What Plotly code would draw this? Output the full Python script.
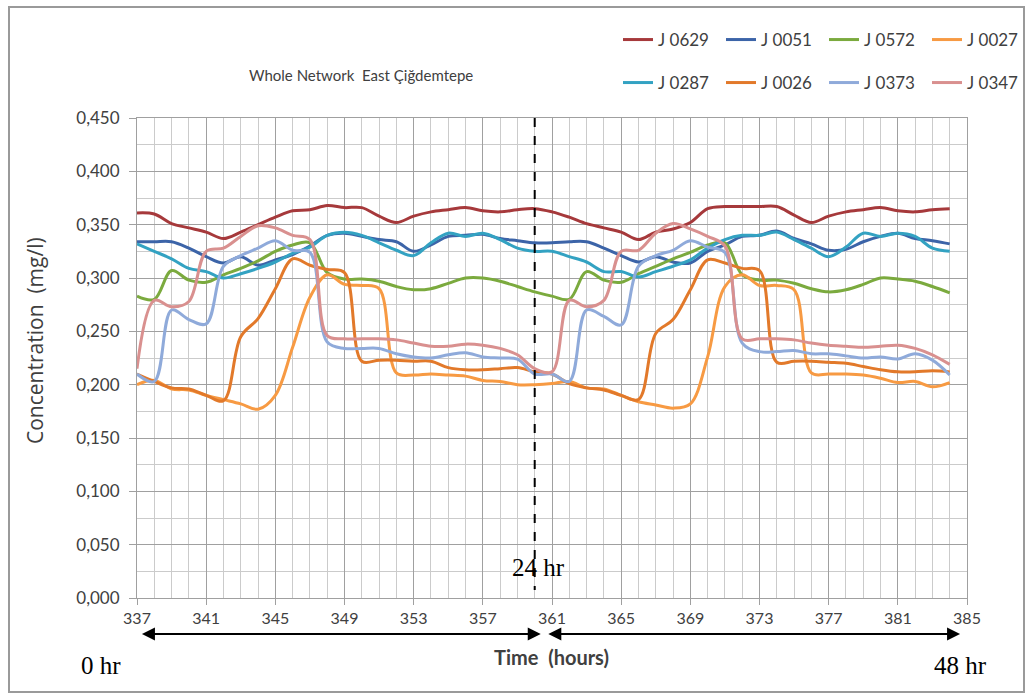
import plotly.graph_objects as go

hours = list(range(337, 385))

j0629 = [0.361, 0.360, 0.351, 0.347, 0.343, 0.337, 0.343, 0.350, 0.357, 0.363, 0.364, 0.368,
         0.366, 0.366, 0.358, 0.352, 0.358, 0.362, 0.364, 0.366, 0.363, 0.362, 0.364, 0.365,
         0.362, 0.357, 0.351, 0.347, 0.343, 0.336, 0.343, 0.346, 0.352, 0.365, 0.367, 0.367,
         0.367, 0.367, 0.359, 0.352, 0.358, 0.362, 0.364, 0.366, 0.363, 0.362, 0.364, 0.365]
j0051 = [0.334, 0.334, 0.334, 0.328, 0.320, 0.314, 0.320, 0.312, 0.317, 0.322, 0.330, 0.340,
         0.342, 0.339, 0.336, 0.334, 0.325, 0.331, 0.339, 0.340, 0.341, 0.337, 0.335, 0.333,
         0.333, 0.334, 0.334, 0.328, 0.321, 0.315, 0.320, 0.315, 0.314, 0.325, 0.331, 0.339,
         0.340, 0.344, 0.337, 0.332, 0.326, 0.327, 0.334, 0.339, 0.342, 0.337, 0.335, 0.332]
j0572 = [0.283, 0.280, 0.307, 0.298, 0.296, 0.303, 0.309, 0.316, 0.325, 0.331, 0.333, 0.305,
         0.299, 0.299, 0.297, 0.292, 0.289, 0.290, 0.295, 0.300, 0.300, 0.297, 0.292, 0.287,
         0.283, 0.280, 0.306, 0.298, 0.296, 0.304, 0.311, 0.318, 0.324, 0.331, 0.333, 0.303,
         0.298, 0.298, 0.295, 0.290, 0.287, 0.289, 0.294, 0.300, 0.299, 0.297, 0.292, 0.286]
j0027 = [0.200, 0.204, 0.196, 0.195, 0.190, 0.186, 0.182, 0.177, 0.190, 0.235, 0.282, 0.303,
         0.294, 0.293, 0.290, 0.211, 0.209, 0.210, 0.209, 0.208, 0.204, 0.203, 0.200, 0.200,
         0.201, 0.203, 0.197, 0.196, 0.190, 0.184, 0.181, 0.178, 0.182, 0.226, 0.292, 0.303,
         0.293, 0.293, 0.289, 0.211, 0.210, 0.210, 0.209, 0.206, 0.202, 0.203, 0.198, 0.202]
j0287 = [0.332, 0.325, 0.318, 0.309, 0.306, 0.300, 0.304, 0.309, 0.315, 0.323, 0.329, 0.340,
         0.343, 0.340, 0.333, 0.326, 0.321, 0.333, 0.342, 0.339, 0.342, 0.336, 0.328, 0.325,
         0.325, 0.320, 0.315, 0.306, 0.306, 0.301, 0.306, 0.311, 0.317, 0.328, 0.336, 0.340,
         0.340, 0.343, 0.336, 0.328, 0.320, 0.329, 0.342, 0.339, 0.342, 0.339, 0.328, 0.325]
j0026 = [0.210, 0.203, 0.197, 0.196, 0.190, 0.185, 0.245, 0.262, 0.290, 0.318, 0.312, 0.308,
         0.305, 0.222, 0.223, 0.223, 0.222, 0.222, 0.216, 0.214, 0.214, 0.215, 0.216, 0.212,
         0.210, 0.201, 0.197, 0.195, 0.190, 0.186, 0.248, 0.261, 0.289, 0.317, 0.314, 0.309,
         0.307, 0.221, 0.222, 0.222, 0.221, 0.220, 0.217, 0.214, 0.212, 0.212, 0.213, 0.212]
j0373 = [0.210, 0.203, 0.270, 0.261, 0.257, 0.311, 0.321, 0.328, 0.335, 0.326, 0.324, 0.240,
         0.234, 0.234, 0.234, 0.229, 0.226, 0.225, 0.228, 0.230, 0.226, 0.225, 0.224, 0.210,
         0.210, 0.203, 0.270, 0.264, 0.256, 0.311, 0.321, 0.326, 0.335, 0.329, 0.324, 0.239,
         0.231, 0.231, 0.232, 0.229, 0.229, 0.227, 0.225, 0.226, 0.224, 0.229, 0.223, 0.209]
j0347 = [0.215, 0.279, 0.273, 0.278, 0.325, 0.328, 0.339, 0.349, 0.347, 0.340, 0.336, 0.246,
         0.243, 0.243, 0.243, 0.242, 0.239, 0.236, 0.236, 0.238, 0.237, 0.234, 0.228, 0.215,
         0.212, 0.279, 0.273, 0.279, 0.325, 0.326, 0.342, 0.351, 0.346, 0.339, 0.330, 0.243,
         0.243, 0.243, 0.242, 0.239, 0.237, 0.236, 0.235, 0.236, 0.237, 0.234, 0.228, 0.219]

series_row1 = [("J 0629", j0629, "#A6393B"), ("J 0051", j0051, "#3C64A8"),
               ("J 0572", j0572, "#7BAA3E"), ("J 0027", j0027, "#F79A43")]
series_row2 = [("J 0287", j0287, "#33A2C2"), ("J 0026", j0026, "#E2792A"),
               ("J 0373", j0373, "#8FAADA"), ("J 0347", j0347, "#D9908F")]

x_ticks = list(range(337, 386, 4))

fig = go.Figure()
for name, vals, col in series_row1:
    fig.add_trace(go.Scatter(x=hours, y=vals, name=name, mode="lines",
                             line=dict(color=col, width=3, shape="spline", smoothing=1.0),
                             legend="legend"))
for name, vals, col in series_row2:
    fig.add_trace(go.Scatter(x=hours, y=vals, name=name, mode="lines",
                             line=dict(color=col, width=3, shape="spline", smoothing=1.0),
                             legend="legend2"))

W, H = 1030, 698
L, R, T, B = 137, 967, 118, 598
def px(xp):
    return (xp - L) / (R - L)
def py(yp):
    return (B - yp) / (B - T)

font = "Lato, 'Open Sans', sans-serif"
txt = "#404040"
major = "#A0A0A0"
minor_c = "#CBCBCB"

fig.update_layout(
    width=W, height=H,
    margin=dict(l=L, r=W - R, t=T, b=H - B, autoexpand=False),
    paper_bgcolor="white", plot_bgcolor="white",
    separators=",.",
    font=dict(family=font, size=13, color=txt),
    legend=dict(orientation="h", x=px(618), y=py(40), xanchor="left", yanchor="middle",
                entrywidth=58, entrywidthmode="pixels", font=dict(size=17, color=txt),
                bgcolor="rgba(0,0,0,0)", traceorder="normal"),
    legend2=dict(orientation="h", x=px(618), y=py(83), xanchor="left", yanchor="middle",
                 entrywidth=58, entrywidthmode="pixels", font=dict(size=17, color=txt),
                 bgcolor="rgba(0,0,0,0)", traceorder="normal"),
    xaxis=dict(range=[337, 385], tickvals=x_ticks, ticktext=[str(v) for v in x_ticks],
               showgrid=True, gridcolor=major, gridwidth=1,
               minor=dict(dtick=1, showgrid=True, gridcolor=minor_c, gridwidth=1),
               showline=True, linecolor=major, linewidth=1, mirror=True,
               ticks="outside", ticklen=6, tickcolor=major,
               zeroline=False, tickfont=dict(size=16, color=txt)),
    yaxis=dict(range=[0, 0.45], dtick=0.05, tickformat=".3f",
               showgrid=True, gridcolor=major, gridwidth=1,
               minor=dict(dtick=0.025, showgrid=True, gridcolor=minor_c, gridwidth=1),
               showline=True, linecolor=major, linewidth=1, mirror=True,
               ticks="outside", ticklen=7, tickcolor=major, ticklabelstandoff=6,
               zeroline=False, tickfont=dict(size=17, color=txt)),
)

# vertical dashed line at 24 hr
fig.add_shape(type="line", xref="x", yref="y", x0=360, x1=360, y0=0.45, y1=0.0075,
              line=dict(color="black", width=2, dash="dash"))

# outer frame
fig.add_shape(type="rect", xref="paper", yref="paper",
              x0=px(9), x1=px(1024), y0=py(692), y1=py(7),
              line=dict(color="#9A9A9A", width=2), layer="below")

annots = [
    dict(text="Whole Network\u00a0 East Çiğdemtepe", x=px(361), y=py(75),
         font=dict(size=15, color=txt, family=font)),
    dict(text="Concentration\u00a0 (mg/l)", x=px(35), y=py(341), textangle=-90,
         font=dict(size=21, color=txt, family="'Open Sans', sans-serif")),
    dict(text="<b>Time\u00a0 (hours)</b>", x=px(551), y=py(657),
         font=dict(size=20, color=txt, family=font)),
    dict(text="0 hr", x=px(101), y=py(665),
         font=dict(size=25, color="black", family="Liberation Serif, serif")),
    dict(text="48 hr", x=px(960), y=py(665),
         font=dict(size=25, color="black", family="Liberation Serif, serif")),
    dict(text="24 hr", x=px(538), y=py(567),
         font=dict(size=25, color="black", family="Liberation Serif, serif")),
]
for a in annots:
    fig.add_annotation(xref="paper", yref="paper", showarrow=False,
                       xanchor="center", yanchor="middle", **a)

# double-headed arrows below the axis
for x0, x1 in [(337.2, 360.35), (360.7, 384.6)]:
    fig.add_annotation(xref="x", yref="paper", x=x1, y=py(634),
                       axref="x", ayref="pixel", ax=x0, ay=0,
                       showarrow=True, arrowhead=2, startarrowhead=2, arrowside="end+start",
                       arrowsize=1.3, startarrowsize=1.3, arrowwidth=2, arrowcolor="black", text="")

fig.write_html("out.html", config={"displayModeBar": False},
               post_script="document.body.style.margin='0';document.body.style.padding='0';")
